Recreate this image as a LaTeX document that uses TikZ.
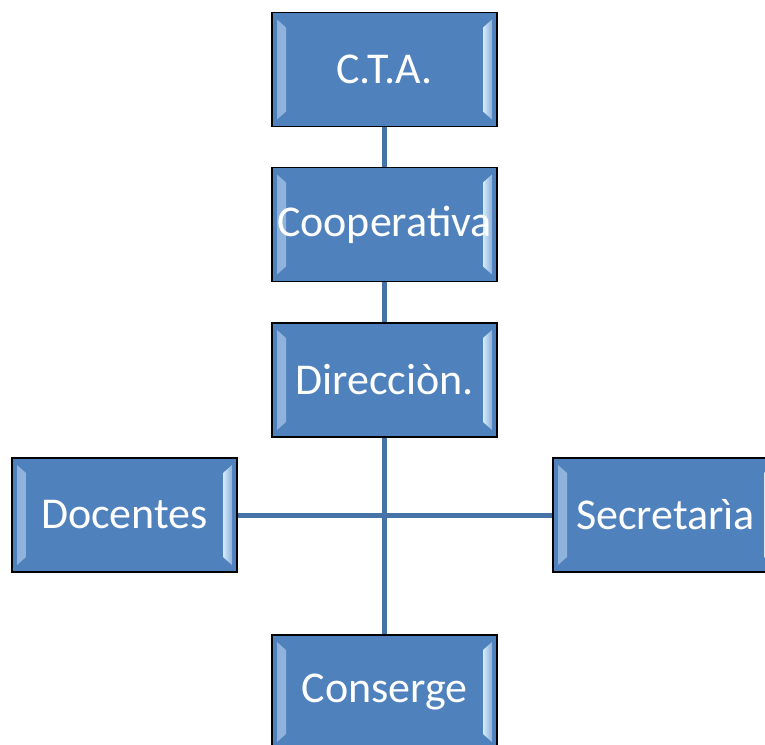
\documentclass[tikz,border=0pt]{standalone}
\usepackage{fontspec}
\setmainfont{Carlito}
\usepackage{tikz}
\usetikzlibrary{calc}
\definecolor{boxblue}{RGB}{79,129,189}
\definecolor{bevelblue}{RGB}{214,234,252}
\definecolor{linkblue}{RGB}{69,114,167}
\tikzset{
  % Boxes of the chart, with a light bevel on the left and right sides
  org box/.style={rectangle,draw=black,line width=1.2pt,fill=boxblue,
    minimum width=225pt,minimum height=114pt,inner sep=0pt,
    text=white,font=\fontsize{44}{52}\selectfont,
    path picture={
      \shade[left color=bevelblue!45!boxblue,right color=bevelblue]
        ($(path picture bounding box.north west)+(5pt,-7pt)$) -- ++(9pt,-8pt)
        -- ($(path picture bounding box.south west)+(14pt,15pt)$) -- ++(-9pt,-8pt) -- cycle;
      \shade[left color=bevelblue,right color=bevelblue!45!boxblue]
        ($(path picture bounding box.north east)+(-5pt,-7pt)$) -- ++(-9pt,-8pt)
        -- ($(path picture bounding box.south east)+(-14pt,15pt)$) -- ++(9pt,-8pt) -- cycle;
    }},
  org line/.style={draw=linkblue,line width=5pt}
}

\begin{document}
\begin{tikzpicture}[x=1pt,y=-1pt]
  \useasboundingbox (0,0) rectangle (765,744);
  % The boxes
  \node(cta)[org box] at (384.5,69.5) {C.T.A.};
  \node(coop)[org box] at (384.5,224.5) {Cooperativa};
  \node(dir)[org box] at (384.5,380) {Direcciòn.};
  \node(doc)[org box] at (124.5,515) {Docentes};
  \node(sec)[org box] at (665.5,515) {Secretarìa};
  \node(cons)[org box] at (384.5,692) {Conserge};
  % The links
  \draw[org line] (cta) -- (coop);
  \draw[org line] (coop) -- (dir);
  \draw[org line] (dir) -- (cons);
  \draw[org line] (doc) -- (sec);
\end{tikzpicture}
\end{document}
